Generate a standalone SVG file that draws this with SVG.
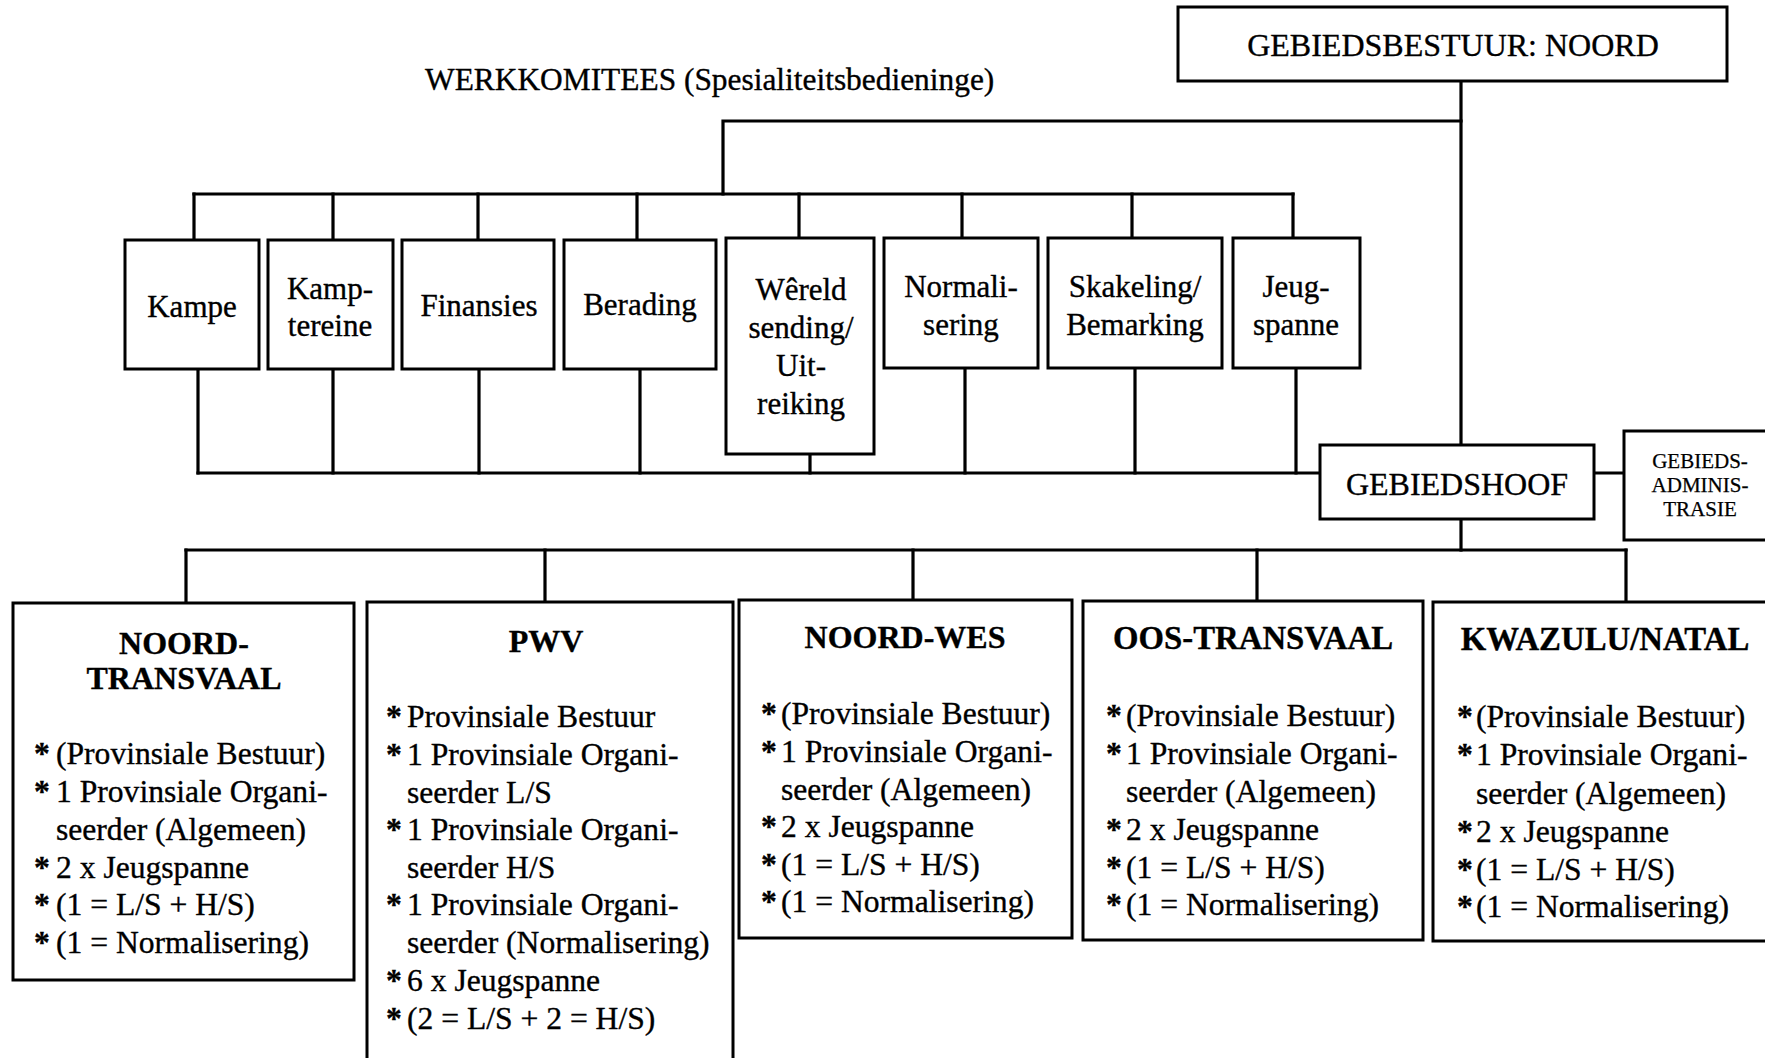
<svg xmlns="http://www.w3.org/2000/svg" width="1765" height="1058" viewBox="0 0 1765 1058">
<style>
  .box { fill: #ffffff; stroke: #000000; stroke-width: 3; }
  .conn { fill: none; stroke: #000000; stroke-width: 3.2; stroke-linecap: square; }
  text { font-family: "Liberation Serif", "Times New Roman", serif; fill: #000000; stroke: #000000; stroke-width: 0.35; }
  .t { font-size: 31.6px; }
  .s { font-size: 31.6px; font-weight: bold; }
  .w { font-size: 31.4px; }
  .c { font-size: 31px; text-anchor: middle; }
  .h { font-size: 32px; font-weight: bold; text-anchor: middle; }
  .h2 { font-size: 32.8px; font-weight: bold; text-anchor: middle; }
  .big { font-size: 32px; text-anchor: middle; }
  .sm { font-size: 21px; text-anchor: middle; stroke-width: 0.25; }
</style>
<rect width="1765" height="1058" fill="#ffffff"/>

<g id="connectors">
  <path class="conn" d="M1461,81 V445"/>
  <path class="conn" d="M1461,121 H723 V194"/>
  <path class="conn" d="M194,194 H1293"/>
  <path class="conn" d="M194,194 V240 M333,194 V240 M478,194 V240 M637,194 V240 M799,194 V238 M962,194 V238 M1132,194 V238 M1293,194 V238"/>
  <path class="conn" d="M198,369 V473 M333,369 V473 M479,369 V473 M640,369 V473 M810,454 V473 M965,368 V473 M1135,368 V473 M1296,368 V473"/>
  <path class="conn" d="M198,473 H1320"/>
  <path class="conn" d="M1594,473 H1624"/>
  <path class="conn" d="M1461,519 V550"/>
  <path class="conn" d="M186,550 H1626"/>
  <path class="conn" d="M186,550 V603 M545,550 V602 M913,550 V600 M1257,550 V601 M1626,550 V602"/>
</g>

<g id="title-werkkomitees">
  <text class="w" x="425" y="90">WERKKOMITEES (Spesialiteitsbedieninge)</text>
</g>

<g id="gebiedsbestuur">
  <rect class="box" x="1178" y="7" width="549" height="74"/>
  <text class="big" x="1453" y="56">GEBIEDSBESTUUR: NOORD</text>
</g>

<g id="kampe">
  <rect class="box" x="125" y="240" width="134" height="129"/>
  <text class="c" x="192" y="317">Kampe</text>
</g>
<g id="kampterreine">
  <rect class="box" x="268" y="240" width="125" height="129"/>
  <text class="c" x="330" y="299">Kamp-</text>
  <text class="c" x="330" y="336">tereine</text>
</g>
<g id="finansies">
  <rect class="box" x="402" y="240" width="152" height="129"/>
  <text class="c" x="479" y="316">Finansies</text>
</g>
<g id="berading">
  <rect class="box" x="564" y="240" width="152" height="129"/>
  <text class="c" x="640" y="315">Berading</text>
</g>
<g id="wereldsending">
  <rect class="box" x="726" y="238" width="148" height="216"/>
  <text class="c" x="801" y="300">Wêreld</text>
  <text class="c" x="801" y="338">sending/</text>
  <text class="c" x="801" y="376">Uit-</text>
  <text class="c" x="801" y="414">reiking</text>
</g>
<g id="normalisering">
  <rect class="box" x="884" y="238" width="154" height="130"/>
  <text class="c" x="961" y="297">Normali-</text>
  <text class="c" x="961" y="335">sering</text>
</g>
<g id="skakeling">
  <rect class="box" x="1048" y="238" width="174" height="130"/>
  <text class="c" x="1135" y="297">Skakeling/</text>
  <text class="c" x="1135" y="335">Bemarking</text>
</g>
<g id="jeugspanne">
  <rect class="box" x="1233" y="238" width="127" height="130"/>
  <text class="c" x="1296" y="297">Jeug-</text>
  <text class="c" x="1296" y="335">spanne</text>
</g>

<g id="gebiedshoof">
  <rect class="box" x="1320" y="445" width="274" height="74"/>
  <text class="big" x="1457" y="495">GEBIEDSHOOF</text>
</g>

<g id="gebiedsadministrasie">
  <rect class="box" x="1624" y="431" width="160" height="109"/>
  <text class="sm" x="1700" y="468">GEBIEDS-</text>
  <text class="sm" x="1700" y="492">ADMINIS-</text>
  <text class="sm" x="1700" y="516">TRASIE</text>
</g>

<g id="noord-transvaal">
  <rect class="box" x="13" y="603" width="341" height="377"/>
  <text class="h" x="184" y="654">NOORD-</text>
  <text class="h" x="184" y="689">TRANSVAAL</text>
  <text class="s" x="34" y="764">*</text><text class="t" x="56" y="764">(Provinsiale Bestuur)</text>
  <text class="s" x="34" y="802">*</text><text class="t" x="56" y="802">1 Provinsiale Organi-</text>
  <text class="t" x="56" y="840">seerder (Algemeen)</text>
  <text class="s" x="34" y="878">*</text><text class="t" x="56" y="878">2 x Jeugspanne</text>
  <text class="s" x="34" y="915">*</text><text class="t" x="56" y="915">(1 = L/S + H/S)</text>
  <text class="s" x="34" y="953">*</text><text class="t" x="56" y="953">(1 = Normalisering)</text>
</g>

<g id="pwv">
  <rect class="box" x="367" y="602" width="366" height="470"/>
  <text class="h" x="546" y="652">PWV</text>
  <text class="s" x="386" y="727">*</text><text class="t" x="407" y="727">Provinsiale Bestuur</text>
  <text class="s" x="386" y="765">*</text><text class="t" x="407" y="765">1 Provinsiale Organi-</text>
  <text class="t" x="407" y="803">seerder L/S</text>
  <text class="s" x="386" y="840">*</text><text class="t" x="407" y="840">1 Provinsiale Organi-</text>
  <text class="t" x="407" y="878">seerder H/S</text>
  <text class="s" x="386" y="915">*</text><text class="t" x="407" y="915">1 Provinsiale Organi-</text>
  <text class="t" x="407" y="953">seerder (Normalisering)</text>
  <text class="s" x="386" y="991">*</text><text class="t" x="407" y="991">6 x Jeugspanne</text>
  <text class="s" x="386" y="1029">*</text><text class="t" x="407" y="1029">(2 = L/S + 2 = H/S)</text>
</g>

<g id="noord-wes">
  <rect class="box" x="739" y="600" width="333" height="338"/>
  <text class="h" x="905" y="648">NOORD-WES</text>
  <text class="s" x="761" y="724">*</text><text class="t" x="781" y="724">(Provinsiale Bestuur)</text>
  <text class="s" x="761" y="762">*</text><text class="t" x="781" y="762">1 Provinsiale Organi-</text>
  <text class="t" x="781" y="800">seerder (Algemeen)</text>
  <text class="s" x="761" y="837">*</text><text class="t" x="781" y="837">2 x Jeugspanne</text>
  <text class="s" x="761" y="875">*</text><text class="t" x="781" y="875">(1 = L/S + H/S)</text>
  <text class="s" x="761" y="912">*</text><text class="t" x="781" y="912">(1 = Normalisering)</text>
</g>

<g id="oos-transvaal">
  <rect class="box" x="1083" y="601" width="340" height="339"/>
  <text class="h2" x="1253" y="649">OOS-TRANSVAAL</text>
  <text class="s" x="1106" y="726">*</text><text class="t" x="1126" y="726">(Provinsiale Bestuur)</text>
  <text class="s" x="1106" y="764">*</text><text class="t" x="1126" y="764">1 Provinsiale Organi-</text>
  <text class="t" x="1126" y="802">seerder (Algemeen)</text>
  <text class="s" x="1106" y="840">*</text><text class="t" x="1126" y="840">2 x Jeugspanne</text>
  <text class="s" x="1106" y="878">*</text><text class="t" x="1126" y="878">(1 = L/S + H/S)</text>
  <text class="s" x="1106" y="915">*</text><text class="t" x="1126" y="915">(1 = Normalisering)</text>
</g>

<g id="kwazulu-natal">
  <rect class="box" x="1433" y="602" width="350" height="339"/>
  <text class="h2" x="1605" y="650">KWAZULU/NATAL</text>
  <text class="s" x="1457" y="727">*</text><text class="t" x="1476" y="727">(Provinsiale Bestuur)</text>
  <text class="s" x="1457" y="765">*</text><text class="t" x="1476" y="765">1 Provinsiale Organi-</text>
  <text class="t" x="1476" y="804">seerder (Algemeen)</text>
  <text class="s" x="1457" y="842">*</text><text class="t" x="1476" y="842">2 x Jeugspanne</text>
  <text class="s" x="1457" y="880">*</text><text class="t" x="1476" y="880">(1 = L/S + H/S)</text>
  <text class="s" x="1457" y="917">*</text><text class="t" x="1476" y="917">(1 = Normalisering)</text>
</g>
</svg>
